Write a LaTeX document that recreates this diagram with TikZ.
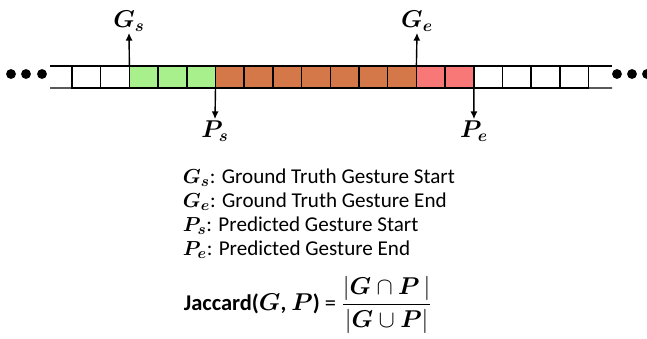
\documentclass[tikz,border=0pt]{standalone}
\usepackage{fontspec}
\usepackage{amsmath,bm}
\setmainfont{Carlito}
\usetikzlibrary{arrows.meta, positioning, calc}
\definecolor{gtGreen}{HTML}{A8F08C}
\definecolor{ovOrange}{HTML}{D4784A}
\definecolor{prPink}{HTML}{F87878}
\newcommand{\bv}[1]{\bm{#1}}

\begin{document}
\begin{tikzpicture}[
    x=0.025cm, y=-0.025cm,
    cell/.style={rectangle, draw=black, line width=1pt, fill=#1,
                 minimum width=0.7175cm, minimum height=0.55cm,
                 inner sep=0pt, outer sep=0pt, anchor=north west},
    rail/.style={line width=1pt},
    pointer/.style={-{Latex[length=5.5pt,width=5pt]}, line width=1pt},
    lbl/.style={font=\fontsize{17}{19}\selectfont, inner sep=1pt},
    txt/.style={font=\fontsize{15}{17}\selectfont, align=left},
    dot/.style={circle, fill=black, inner sep=0pt, minimum size=7pt},
  ]
    \useasboundingbox (0,0) rectangle (647,339);

    % frame row
    \foreach \i in {0,...,17}{
      \ifnum\i<2 \def\cc{white}\else
      \ifnum\i<5 \def\cc{gtGreen}\else
      \ifnum\i<12 \def\cc{ovOrange}\else
      \ifnum\i<14 \def\cc{prPink}\else
      \def\cc{white}\fi\fi\fi\fi
      \node[cell=\cc] (c\i) at (72+\i*28.7, 66) {};
    }
    \coordinate (tl) at (50,66);
    \coordinate (bl) at (50,88);
    \coordinate (tr) at (612,66);
    \coordinate (br) at (612,88);
    \draw[rail] (tl) -- (c0.north west);
    \draw[rail] (bl) -- (c0.south west);
    \draw[rail] (c17.north east) -- (tr);
    \draw[rail] (c17.south east) -- (br);

    % dots on both ends
    \node[dot] (dl1) at (11,74) {};
    \node[dot] (dl2) at (26,74) {};
    \node[dot] (dl3) at (42,74) {};
    \node[dot] (dr1) at (617,74) {};
    \node[dot] (dr2) at (632,74) {};
    \node[dot] (dr3) at (647,74) {};

    % boundary labels
    \node[lbl] (gs) at (129,21) {$\bv{G}_{\bv{s}}$};
    \node[lbl] (ge) at (417,21) {$\bv{G}_{\bv{e}}$};
    \node[lbl] (ps) at (215,131) {$\bv{P}_{\bv{s}}$};
    \node[lbl] (pe) at (474,131) {$\bv{P}_{\bv{e}}$};
    \draw[pointer] (c2.north west) -- (gs.south);
    \draw[pointer] (c12.north west) -- (ge.south);
    \draw[pointer] (c5.south west) -- (ps.north);
    \draw[pointer] (c14.south west) -- (pe.north);

    % legend
    \node[txt, anchor=north west] (leg) at (178,164) {%
      $\bv{G}_{\bv{s}}$: Ground Truth Gesture Start\\
      $\bv{G}_{\bv{e}}$: Ground Truth Gesture End\\
      $\bv{P}_{\bv{s}}$: Predicted Gesture Start\\
      $\bv{P}_{\bv{e}}$: Predicted Gesture End};

    % score
    \node[txt, font=\fontsize{16}{19}\selectfont] (jac) at (308,305) {%
      \textbf{Jaccard(}$\bv{G}$\textbf{,} $\bv{P}$\textbf{)} =
      $\dfrac{|\bv{G}\cap\bv{P}\,|}{|\bv{G}\cup\bv{P}|}$};
\end{tikzpicture}
\end{document}
